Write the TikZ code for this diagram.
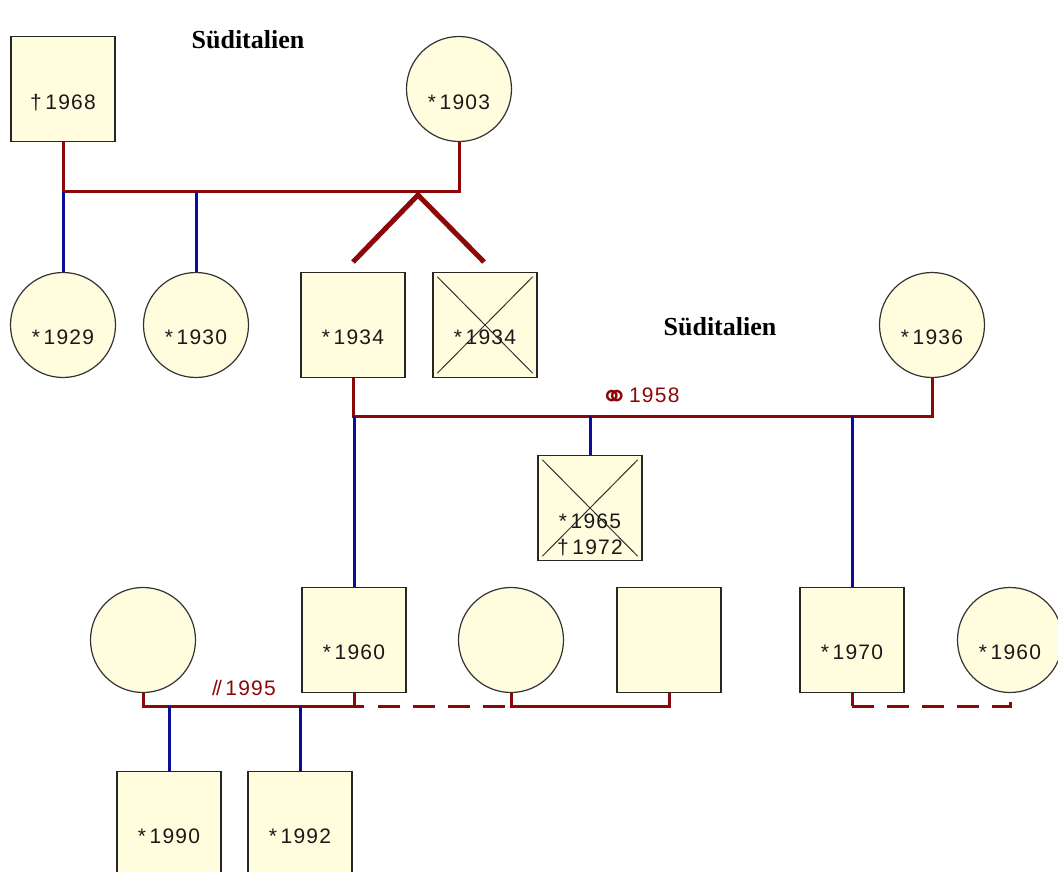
\documentclass[tikz,border=0pt]{standalone}
\usepackage{fontspec}
\setmainfont{Liberation Sans}
\newfontfamily\titlefont{Liberation Serif}
\newfontfamily\symfont{DejaVu Sans}
\newfontfamily\digitfont[LetterSpace=6]{Liberation Sans}
\definecolor{fillc}{RGB}{255,253,222}
\definecolor{mred}{RGB}{138,8,8}
\definecolor{mblue}{RGB}{12,12,150}
\begin{document}
\begin{tikzpicture}[x=1pt,y=-1pt,
  box/.style={draw=black!85, line width=1.4pt, fill=fillc, minimum width=104pt, minimum height=105pt, inner sep=0pt},
  person/.style={circle, draw=black!80, line width=1.2pt, fill=fillc, minimum size=105pt, inner sep=0pt},
  lbl/.style={font=\digitfont\fontsize{21}{27}\selectfont, inner sep=0pt, text=black!90},
  rlbl/.style={font=\digitfont\fontsize{21}{27}\selectfont, inner sep=0pt, text=mred},
  title/.style={font=\titlefont\bfseries\fontsize{26}{30}\selectfont, inner sep=0pt},
  rel/.style={draw=mred, line width=3pt},
  dashrel/.style={draw=mred, line width=3pt, dash pattern=on 22pt off 13pt},
  kid/.style={draw=mblue, line width=3pt},
  twin/.style={draw=mred, line width=5pt},
  xline/.style={draw=black!80, line width=1pt}
]
\useasboundingbox[fill=white] (0,0) rectangle (1058,872);

% generation 1
\node[box] (p1968) at (63,89) {};
\node[person] (p1903) at (459,89) {};
\node[title] (s1) at (248,40) {Süditalien};

% generation 2
\node[person] (p1929) at (63,325) {};
\node[person] (p1930) at (196,325) {};
\node[box] (p1934) at (353,325) {};
\node[box] (q1934) at (485,325) {};
\node[person] (p1936) at (932,325) {};
\node[title] (s2) at (720,327) {Süditalien};

% generation 3
\node[box] (p1965) at (590,508) {};
\node[person] (w1) at (143,640) {};
\node[box] (p1960) at (354,640) {};
\node[person] (w2) at (511,640) {};
\node[box] (e1) at (669,640) {};
\node[box] (p1970) at (852,640) {};
\node[person] (w3) at (1010,640) {};

% generation 4
\node[box] (p1990) at (169,824) {};
\node[box] (p1992) at (300,824) {};

% crosses
\draw[xline] ([xshift=5pt,yshift=-5pt]q1934.north west) -- ([xshift=-5pt,yshift=5pt]q1934.south east);
\draw[xline] ([xshift=-5pt,yshift=-5pt]q1934.north east) -- ([xshift=5pt,yshift=5pt]q1934.south west);
\draw[xline] ([xshift=5pt,yshift=-5pt]p1965.north west) -- ([xshift=-5pt,yshift=5pt]p1965.south east);
\draw[xline] ([xshift=-5pt,yshift=-5pt]p1965.north east) -- ([xshift=5pt,yshift=5pt]p1965.south west);

% labels
\node[lbl] (t1968) at ([yshift=-14pt]p1968.center) {†\,1968};
\node[lbl] (t1903) at ([yshift=-13pt]p1903.center) {*\,1903};
\node[lbl] (t1929) at ([yshift=-12pt]p1929.center) {*\,1929};
\node[lbl] (t1930) at ([yshift=-12pt]p1930.center) {*\,1930};
\node[lbl] (t1934) at ([yshift=-12pt]p1934.center) {*\,1934};
\node[lbl] (u1934) at ([yshift=-12pt]q1934.center) {*\,1934};
\node[lbl] (t1936) at ([yshift=-12pt]p1936.center) {*\,1936};
\node[lbl, align=center] (t1965) at ([yshift=-27pt]p1965.center) {*\,1965\\[-1pt]†\,1972};
\node[lbl] (t1960) at ([yshift=-12pt]p1960.center) {*\,1960};
\node[lbl] (t1970) at ([yshift=-12pt]p1970.center) {*\,1970};
\node[lbl] (u1960) at ([yshift=-12pt]w3.center) {*\,1960};
\node[lbl] (t1990) at ([yshift=-12pt]p1990.center) {*\,1990};
\node[lbl] (t1992) at ([yshift=-12pt]p1992.center) {*\,1992};

% relation 1
\coordinate (m1) at (418,192);
\draw[rel] (p1968.south) |- (m1) -| (p1903.south);
\draw[kid] (p1929.north) -- (p1929.north |- m1);
\draw[kid] (p1930.north) -- (p1930.north |- m1);
\coordinate (tw) at (418,195);
\coordinate (tw1) at (353,262);
\coordinate (tw2) at (484,262);
\draw[twin] (tw1) -- (tw) -- (tw2);

% relation 2
\coordinate (m2) at (640,416);
\draw[rel] (p1934.south) |- (m2) -| (p1936.south);
\node[rlbl] (r1958) at (640,398) {{\symfont\fontsize{34}{34}\selectfont\raisebox{-6pt}{⚭}}1958};
\draw[kid] (p1965.north) -- (p1965.north |- m2);
\draw[kid] (p1960.north) -- (p1960.north |- m2);
\draw[kid] (p1970.north) -- (p1970.north |- m2);

% relation 3
\coordinate (m3) at (250,706);
\draw[rel] (w1.south) |- (m3) -| (p1960.south);
\node[rlbl] (r1995) at (244,688) {/\kern-2pt/\,1995};
\draw[kid] (p1990.north) -- (p1990.north |- m3);
\draw[kid] (p1992.north) -- (p1992.north |- m3);
\draw[rel] (p1960.south |- m3) -- ++(10,0) coordinate (d0);
\draw[dashrel] ([xshift=14pt]d0) -- (w2.south |- m3);

% relation 4
\coordinate (m4) at (590,706);
\draw[rel] (w2.south) |- (m4) -| (e1.south);

% relation 5
\coordinate (m5) at (930,706);
\draw[rel] (p1970.south) -- (p1970.south |- m5);
\draw[dashrel] (p1970.south |- m5) -| (w3.south);
\end{tikzpicture}
\end{document}
